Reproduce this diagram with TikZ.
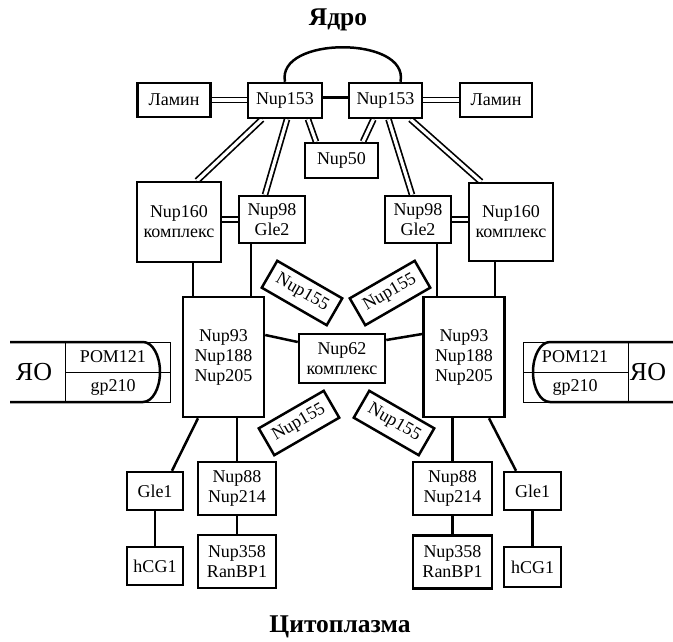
\documentclass[tikz,border=0pt]{standalone}
\usepackage{fontspec}
\setmainfont{Liberation Serif}
\usetikzlibrary{backgrounds}

\begin{document}
\begin{tikzpicture}[x=1pt,y=-1pt,
    box/.style={draw, fill=white, line width=2.5pt, inner sep=0pt, align=center,
      font=\fontsize{18}{20}\selectfont},
    dbl/.style={double, double distance=3.2pt, line width=1.7pt},
    lnk/.style={line width=2.5pt},
    thin line/.style={line width=1pt},
    title/.style={font=\fontsize{25.5}{28}\selectfont\bfseries}]
  \useasboundingbox (0,0) rectangle (673,641);

  \node[title] (yadro) at (338,20) {Ядро};
  \node[title] (cyto) at (340,627) {Цитоплазма};

  % top row
  \node[box, minimum width=73, minimum height=34] (lam1) at (174,100) {Ламин};
  \node[box, minimum width=74, minimum height=35] (n153a) at (285,100.5) {Nup153};
  \node[box, minimum width=73, minimum height=35] (n153b) at (385.5,100.5) {Nup153};
  \node[box, minimum width=72, minimum height=34] (lam2) at (496,100) {Ламин};
  \node[box, minimum width=73, minimum height=35] (n50) at (341.5,160.5) {Nup50};

  % second row
  \node[box, minimum width=84, minimum height=80] (n160a) at (179,222) {Nup160\\комплекс};
  \node[box, minimum width=66, minimum height=47] (n98a) at (272,219.5) {Nup98\\Gle2};
  \node[box, minimum width=66, minimum height=47] (n98b) at (418,219.5) {Nup98\\Gle2};
  \node[box, minimum width=84, minimum height=78] (n160b) at (511,222) {Nup160\\комплекс};

  % middle
  \node[box, minimum width=81, minimum height=120] (n93a) at (223.5,357) {Nup93\\Nup188\\Nup205};
  \node[box, minimum width=81, minimum height=120] (n93b) at (464,357) {Nup93\\Nup188\\Nup205};
  \node[box, minimum width=86, minimum height=49] (n62) at (342,358.5) {Nup62\\комплекс};
  \node[box, minimum width=75, minimum height=31, rotate=-30] (n155a) at (302,293) {Nup155};
  \node[box, minimum width=75, minimum height=31, rotate=30] (n155b) at (390,293) {Nup155};
  \node[box, minimum width=75, minimum height=31, rotate=30] (n155c) at (299,423) {Nup155};
  \node[box, minimum width=75, minimum height=31, rotate=-30] (n155d) at (394,423) {Nup155};

  % bottom
  \node[box, minimum width=56, minimum height=38] (gle1a) at (155,491) {Gle1};
  \node[box, minimum width=56, minimum height=38] (hcg1a) at (155,566) {hCG1};
  \node[box, minimum width=78, minimum height=53] (n88a) at (237,488.5) {Nup88\\Nup214};
  \node[box, minimum width=78, minimum height=53] (n358a) at (237,561.5) {Nup358\\RanBP1};
  \node[box, minimum width=79, minimum height=53] (n88b) at (452.5,488.5) {Nup88\\Nup214};
  \node[box, minimum width=79, minimum height=53] (n358b) at (452.5,562) {Nup358\\RanBP1};
  \node[box, minimum width=57, minimum height=38] (gle1b) at (532.5,491) {Gle1};
  \node[box, minimum width=57, minimum height=40] (hcg1b) at (532.5,567) {hCG1};

  % membrane anchors
  \draw[thin line] (65,342) rectangle (170,402);
  \draw[thin line] (65,372) -- (170,372);
  \draw[lnk] (10,342) -- (143,342) arc[start angle=-90, end angle=90, x radius=17, y radius=30] -- (10,402);
  \node[font=\fontsize{18}{20}\selectfont] (pom1) at (113,357) {POM121};
  \node[font=\fontsize{18}{20}\selectfont] (gp1) at (113,387) {gp210};
  \node[font=\fontsize{26}{28}\selectfont] (yo1) at (34,372) {ЯО};

  \draw[thin line] (523,342) rectangle (628,402);
  \draw[thin line] (523,372) -- (628,372);
  \draw[lnk] (673,342) -- (550,342) arc[start angle=-90, end angle=-270, x radius=17, y radius=30] -- (673,402);
  \node[font=\fontsize{18}{20}\selectfont] (pom2) at (575,357) {POM121};
  \node[font=\fontsize{18}{20}\selectfont] (gp2) at (575,387) {gp210};
  \node[font=\fontsize{26}{28}\selectfont] (yo2) at (648,372) {ЯО};

  \begin{scope}[on background layer]
    % double links
    \draw[dbl] (lam1.east) -- (lam1.east -| n153a.west);
    \draw[dbl] (lam2.west -| n153b.east) -- (lam2.west);
    \draw[dbl] ([xshift=-23pt]n153a.south) -- ([xshift=18pt]n160a.north);
    \draw[dbl] ([xshift=2pt]n153a.south) -- ([xshift=-7pt]n98a.north);
    \draw[dbl] ([xshift=23pt]n153a.south) -- ([xshift=-25.5pt]n50.north);
    \draw[dbl] ([xshift=-12pt]n153b.south) -- ([xshift=21.5pt]n50.north);
    \draw[dbl] ([xshift=3pt]n153b.south) -- ([xshift=-6pt]n98b.north);
    \draw[dbl] ([xshift=25pt]n153b.south) -- ([xshift=-30pt]n160b.north);
    \draw[dbl] (n160a.east |- n98a.west) -- (n98a.west);
    \draw[dbl] (n98b.east) -- (n160b.west |- n98b.east);

    % single links
    \draw[lnk] ([yshift=3pt]n153a.east) -- ([yshift=3pt]n153b.west);
    \draw[lnk] (n153a.north) .. controls +(-9,-46) and +(9,-46) .. ([xshift=15pt]n153b.north);
    \draw[lnk] ([xshift=14pt]n160a.south) -- ([xshift=-30.5pt]n93a.north);
    \draw[lnk] ([xshift=-21pt]n98a.south) -- ([xshift=27.5pt]n93a.north);
    \draw[lnk] ([xshift=19pt]n98b.south) -- ([xshift=-27pt]n93b.north);
    \draw[lnk] ([xshift=-16pt]n160b.south) -- ([xshift=31pt]n93b.north);
    \draw[lnk] ([yshift=22pt]n93a.east) -- ([yshift=16.5pt]n62.west);
    \draw[lnk] ([yshift=18.5pt]n62.east) -- ([yshift=23pt]n93b.west);
    \draw[lnk] ([xshift=13.5pt]n93a.south) -- (n88a.north);
    \draw[lnk] ([xshift=-25.5pt]n93a.south) -- ([xshift=17pt]gle1a.north);
    \draw[lnk] (gle1a.south) -- (hcg1a.north);
    \draw[lnk] (n88a.south) -- (n358a.north);
    \draw[lnk] ([xshift=-11.5pt]n93b.south) -- (n88b.north);
    \draw[lnk] ([xshift=25pt]n93b.south) -- ([xshift=-16.5pt]gle1b.north);
    \draw[lnk] (gle1b.south) -- (hcg1b.north);
    \draw[lnk] (n88b.south) -- (n358b.north);
  \end{scope}
\end{tikzpicture}
\end{document}
